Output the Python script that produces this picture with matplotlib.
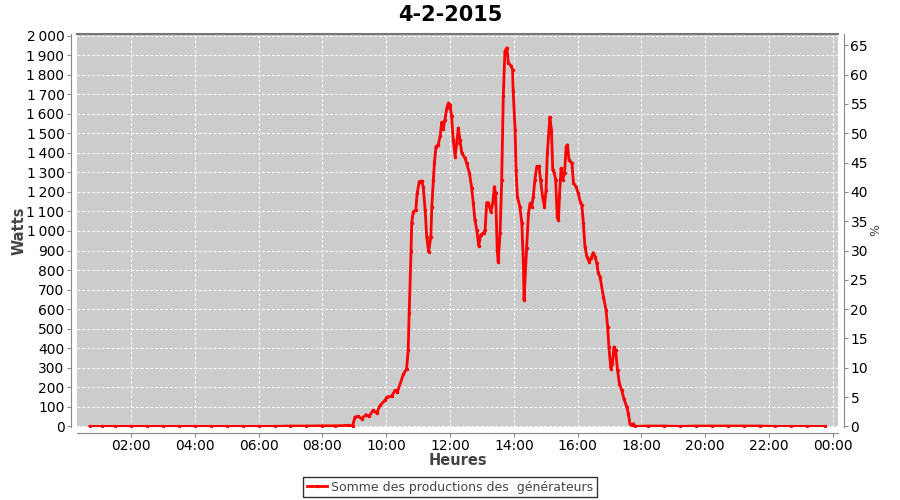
import matplotlib
matplotlib.use("Agg")
import matplotlib.pyplot as plt

# heures (décimales) et puissance en watts
heures = [
    0.71, 1.10, 1.50, 2.00, 2.50, 3.00, 3.50, 4.00, 4.50, 5.00, 5.50, 6.00,
    6.50, 7.00, 7.50, 8.00, 8.40, 8.80, 8.95,
    9.02, 9.12, 9.23, 9.37, 9.46, 9.59, 9.70, 9.81, 9.96, 10.02, 10.17, 10.28,
    10.35, 10.54, 10.64, 10.69, 10.72, 10.78, 10.80, 10.85, 10.93, 10.97,
    11.04, 11.11, 11.16, 11.22, 11.27, 11.33, 11.40, 11.43, 11.48, 11.51,
    11.56, 11.63, 11.69, 11.74, 11.79, 11.84, 11.90, 11.95, 12.00, 12.05,
    12.10, 12.16, 12.21, 12.26, 12.31, 12.37, 12.47, 12.52, 12.61, 12.68,
    12.73, 12.78, 12.84, 12.90, 12.96, 13.05, 13.10, 13.15, 13.20, 13.28,
    13.34, 13.39, 13.43, 13.48, 13.51, 13.57, 13.62, 13.67, 13.72, 13.78,
    13.83, 13.91, 13.96, 13.98, 14.04, 14.07, 14.11, 14.19, 14.25, 14.30,
    14.32, 14.40, 14.46, 14.51, 14.56, 14.61, 14.66, 14.72, 14.79, 14.84,
    14.90, 14.96, 15.01, 15.05, 15.10, 15.13, 15.18, 15.22, 15.27, 15.31,
    15.36, 15.40, 15.43, 15.48, 15.53, 15.59, 15.64, 15.68, 15.73, 15.82,
    15.87, 15.95, 16.02, 16.08, 16.13, 16.18, 16.23, 16.29, 16.36, 16.42,
    16.49, 16.55, 16.60, 16.65, 16.70, 16.81, 16.89, 16.94, 16.98, 17.04,
    17.09, 17.14, 17.19, 17.25, 17.31, 17.38, 17.45, 17.54, 17.59, 17.64,
    17.70, 17.75, 17.80, 18.20, 18.70, 19.20, 19.70, 20.20, 20.70, 21.20,
    21.70, 22.20, 22.70, 23.20, 23.76,
]
watts = [
    0, 0, 0, 0, 0, 0, 0, 0, 0, 0, 0, 0,
    0, 2, 2, 3, 3, 5, 3,
    48, 51, 40, 60, 51, 82, 68, 108, 133, 150, 155, 185,
    176, 267, 296, 390, 578, 900, 1043, 1099, 1108, 1193,
    1253, 1256, 1227, 1108, 971, 894, 971, 1125, 1262, 1347,
    1432, 1441, 1484, 1556, 1522, 1569, 1629, 1655, 1646, 1586,
    1467, 1381, 1450, 1527, 1467, 1398, 1373, 1347, 1296, 1219,
    1142, 1056, 1005, 923, 979, 991, 1005, 1145, 1145, 1099,
    1142, 1227, 1193, 903, 843, 988, 1262, 1689, 1919, 1937,
    1860, 1846, 1826, 1714, 1518, 1313, 1176, 1125, 1040, 834,
    646, 911, 1091, 1142, 1125, 1176, 1262, 1330, 1330, 1262,
    1176, 1125, 1210, 1398, 1518, 1583, 1518, 1313, 1296, 1262,
    1073, 1056, 1176, 1321, 1262, 1296, 1432, 1441, 1364, 1347,
    1245, 1227, 1193, 1150, 1133, 1040, 919, 868, 843, 860,
    889, 868, 834, 783, 766, 663, 595, 509, 407, 296,
    321, 407, 390, 287, 219, 185, 142, 99, 65, 14,
    5, 14, 0, 2, 2, 0, 2, 2, 2, 2,
    2, 0, 0, 0, 0,
]
x_ticks = [2, 4, 6, 8, 10, 12, 14, 16, 18, 20, 22, 24]
x_labels = ["02:00", "04:00", "06:00", "08:00", "10:00", "12:00",
            "14:00", "16:00", "18:00", "20:00", "22:00", "00:00"]
y_ticks = list(range(0, 2001, 100))
y_labels = [f"{v:,}".replace(",", "\u2009") for v in y_ticks]
pct_ticks = list(range(0, 66, 5))
puissance_crete = 3000  # 100 % = 3000 W

fig = plt.figure(figsize=(9, 5), dpi=100)
ax = fig.add_axes([77 / 900, 1 - 427 / 500, 761 / 900, 393 / 500])
ax.set_facecolor("#cccccc")

ax.plot(heures, watts, color="red", lw=2, marker="o", markersize=1.5,
        label="Somme des productions des  générateurs")

ax.set_xlim(0.31, 24.16)
ax.set_ylim(-3, 2008)
ax.set_xticks(x_ticks)
ax.set_xticklabels(x_labels, fontsize=9.5, color="#444444")
ax.set_yticks(y_ticks)
ax.set_yticklabels(y_labels, fontsize=8.5, color="#444444")
ax.grid(color="white", linestyle=(0, (3, 2)), linewidth=0.7)

for s in ["top", "right"]:
    ax.spines[s].set_visible(False)
for s in ["left", "bottom"]:
    ax.spines[s].set_position(("outward", 4))
    ax.spines[s].set_color("#888888")
ax.tick_params(length=3, color="#888888", pad=2)
ax.axhline(2008, color="#777777", lw=1.5, clip_on=False)

ax.set_xlabel("Heures", fontsize=10.5, fontweight="bold", color="#444444")
ax.set_ylabel("Watts", fontsize=10.5, fontweight="bold", color="#444444")
ax.xaxis.set_label_coords(0.5, (427 - 453) / 393)
ax.yaxis.set_label_coords((27 - 77) / 761, 0.5)

ax2 = ax.twinx()
ax2.set_ylim(-3 / puissance_crete * 100, 2008 / puissance_crete * 100)
ax2.set_yticks(pct_ticks)
ax2.set_yticklabels([str(p) for p in pct_ticks], fontsize=7.5, color="#444444")
for s in ["top", "left", "bottom"]:
    ax2.spines[s].set_visible(False)
ax2.spines["right"].set_position(("outward", 4))
ax2.spines["right"].set_color("#888888")
ax2.tick_params(length=3, color="#888888", pad=2)
ax2.set_ylabel("%", fontsize=9, color="#444444")
ax2.yaxis.set_label_coords((869 - 77) / 761, 0.5)

fig.suptitle("4-2-2015", x=0.5, y=0.99, fontsize=15, fontweight="bold",
             family=["Liberation Sans Narrow", "DejaVu Sans"])

leg = fig.legend(loc="center", bbox_to_anchor=(0.5, 1 - 487 / 500), frameon=True,
                 fancybox=False, edgecolor="black", fontsize=9, handlelength=1.6,
                 borderpad=0.3, handletextpad=0.3)
leg.get_frame().set_linewidth(1)
for t in leg.get_texts():
    t.set_color("#444444")

fig.savefig("out.png", dpi=100)
